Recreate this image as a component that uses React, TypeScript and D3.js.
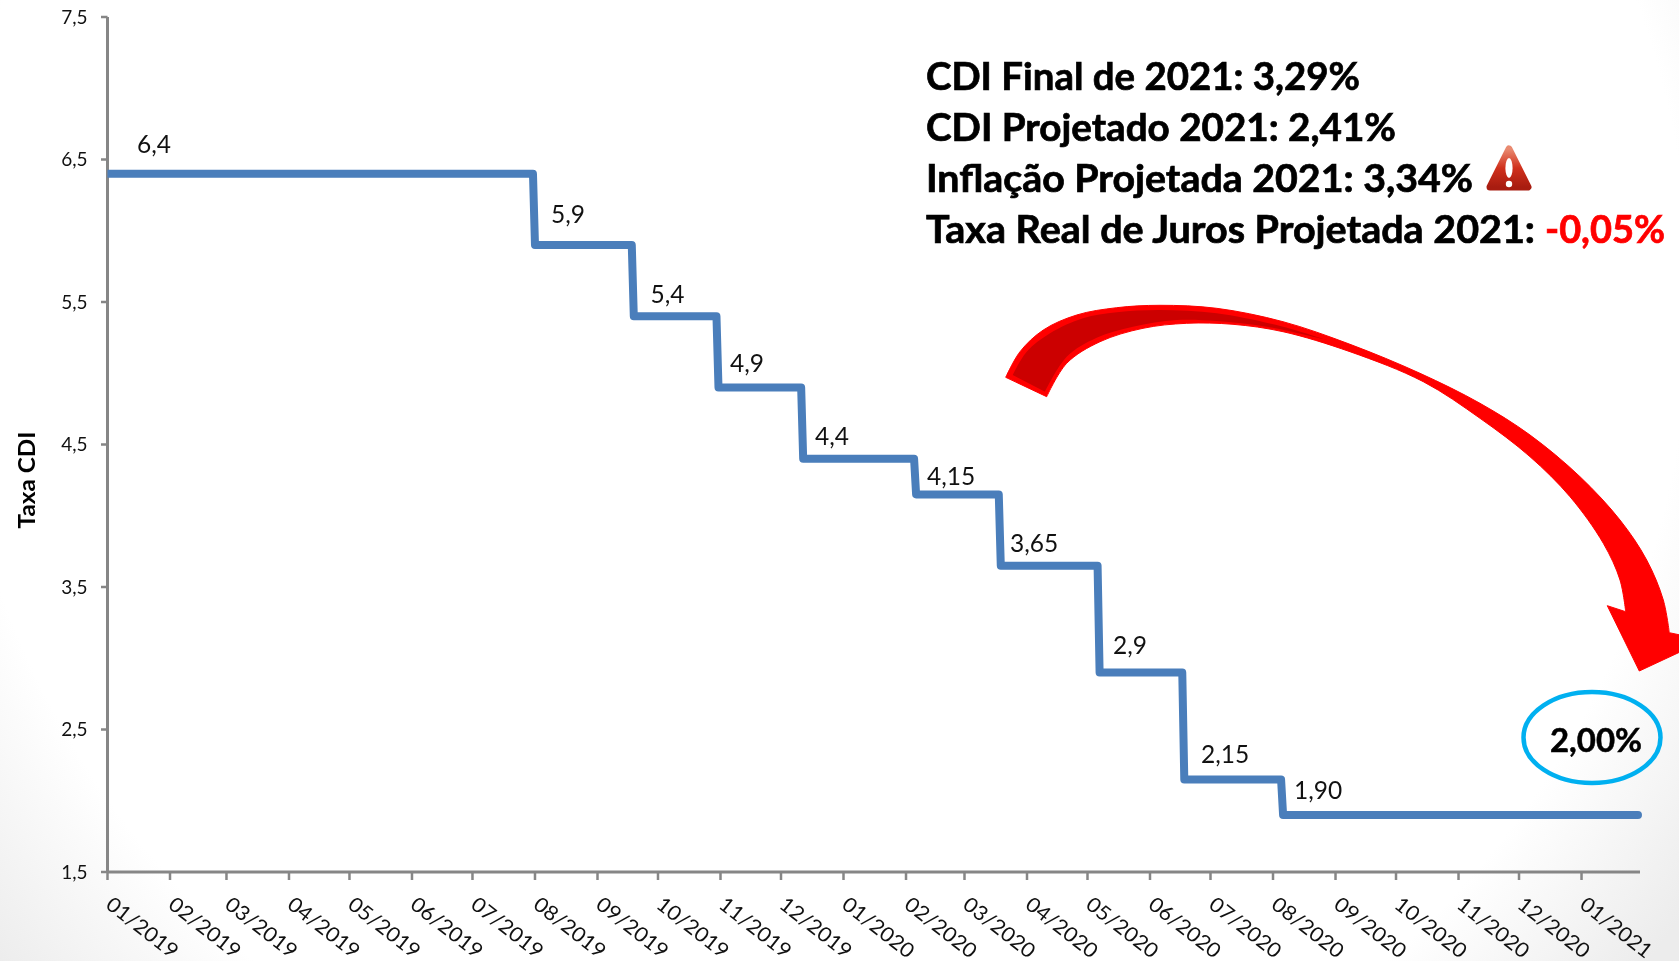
import React from "react";
import * as d3 from "d3";

const stepStarts = ["2019-01-01","2019-08-01","2019-09-19","2019-10-31","2019-12-12","2020-02-06","2020-03-19","2020-05-07","2020-06-18","2020-08-06"];
const stepValues = [6.4,5.9,5.4,4.9,4.4,4.15,3.65,2.9,2.15,1.9];
const stepLabels = ["6,4","5,9","5,4","4,9","4,4","4,15","3,65","2,9","2,15","1,90"];
const seriesEnd = "2021-01-29";
const axisEnd = "2021-01-30";
const tickLabels = ["01/2019","02/2019","03/2019","04/2019","05/2019","06/2019","07/2019","08/2019","09/2019","10/2019","11/2019","12/2019","01/2020","02/2020","03/2020","04/2020","05/2020","06/2020","07/2020","08/2020","09/2020","10/2020","11/2020","12/2020","01/2021"];
const yTicks = [1.5,2.5,3.5,4.5,5.5,6.5,7.5];

// label anchor points (left edge, baseline)
const labelX = [137,551,650.5,730,815,927,1010,1113,1201,1294];
const labelY = [152.7,222.7,303.3,372,445,484.5,552,654,763,799];

const arrowOuter: [number,number][] = [[1005.7,377.3],[1020,351.7],[1043.3,330],[1076.7,315],[1116.7,307.7],[1160,305.3],[1216.7,308.3],[1283,321.7],[1350,344.3],[1420,373.3],[1480,403.3],[1530,435],[1580,476.7],[1620,520],[1646.7,560],[1663.3,600],[1669.3,632.7]];
const arrowInner: [number,number][] = [[1625.7,611.7],[1620,580],[1603.3,543.3],[1570,496.7],[1530,456.7],[1480,418.3],[1423.3,381.7],[1350,351.7],[1283,331.7],[1233,324.3],[1186.7,323.3],[1143,328.3],[1100,341.7],[1066.7,363.3],[1046.7,396.7]];
const darkTop: [number,number][] = [[1012.7,375],[1026.7,351.7],[1050,333.3],[1083,318.3],[1116.7,312.3],[1160,310],[1216.7,313.3],[1283,326.7],[1326.7,340]];
const darkBottom: [number,number][] = [[1326.7,340],[1266.7,326.7],[1216.7,321],[1176.7,320],[1133,326.7],[1096.7,337.7],[1066.7,356.7],[1045,391.7]];

const parseDay = d3.timeParse("%Y-%m-%d");
const parseMonth = d3.timeParse("%m/%Y");

const x = d3.scaleTime().domain([parseDay("2019-01-01")!, parseDay(axisEnd)!]).range([107.5, 1640]);
const y = d3.scaleLinear().domain([1.5, 7.5]).range([872, 17]);

const points: [Date, number][] = [];
stepStarts.forEach((s, i) => {
  const start = parseDay(s)!;
  const next = i + 1 < stepStarts.length ? d3.timeDay.offset(parseDay(stepStarts[i + 1])!, -1) : parseDay(seriesEnd)!;
  points.push([start, stepValues[i]], [next, stepValues[i]]);
});
const stepLine = d3.line<[Date, number]>().x(d => x(d[0])).y(d => y(d[1]));

const smooth = d3.line().curve(d3.curveCatmullRom.alpha(0.5));
const trim = (p: string) => p.replace(/^M/, "");
const arrowPath =
  smooth(arrowOuter)! + "L1685,636L1695,645L1639.3,671L1607.3,605.7" + "L" + trim(smooth(arrowInner)!) + "Z";
const darkPath = smooth(darkTop)! + "L" + trim(smooth(darkBottom)!) + "Z";

const FONT = "Lato, 'Open Sans', sans-serif";
const AXIS = "#868686";

export default function App() {
  return (
    <svg width={1679} height={961} style={{ position: "fixed", left: 0, top: 0, display: "block" }} fontFamily={FONT}>
      <defs>
        <radialGradient id="bg" gradientUnits="userSpaceOnUse" cx={820} cy={300} r={1060}>
          <stop offset="0.82" stopColor="#ffffff" />
          <stop offset="1" stopColor="#ececec" />
        </radialGradient>
        <linearGradient id="warn" x1="0" y1="0" x2="0" y2="1">
          <stop offset="0" stopColor="#e98a70" />
          <stop offset="0.5" stopColor="#d0301c" />
          <stop offset="1" stopColor="#a81c10" />
        </linearGradient>
        <clipPath id="plot">
          <rect x={107.5} y={0} width={1571.5} height={961} />
        </clipPath>
      </defs>
      <rect width={1679} height={961} fill="url(#bg)" />

      {/* axes */}
      <line x1={107.5} x2={107.5} y1={y(7.5)} y2={y(1.5)} stroke={AXIS} strokeWidth={3} />
      <line x1={107.5} x2={x.range()[1]} y1={y(1.5)} y2={y(1.5)} stroke={AXIS} strokeWidth={3} />
      {yTicks.map(t => (
        <g key={t}>
          <line x1={101} x2={107.5} y1={y(t)} y2={y(t)} stroke={AXIS} strokeWidth={2.5} />
          <text x={87.5} y={y(t) + 6.5} textAnchor="end" fontSize={19} fill="#111">
            {String(t).replace(".", ",")}
          </text>
        </g>
      ))}
      {tickLabels.map(l => {
        const px = x(parseMonth(l)!);
        return (
          <g key={l}>
            <line x1={px} x2={px} y1={y(1.5)} y2={y(1.5) + 8} stroke={AXIS} strokeWidth={2.5} />
            <text
              transform={`translate(${px - 3},907) rotate(38)`}
              fontSize={20.5}
              textLength={85}
              lengthAdjust="spacingAndGlyphs"
              fill="#111"
            >
              {l}
            </text>
          </g>
        );
      })}
      <text
        transform="translate(35,480) rotate(-90)"
        textAnchor="middle"
        fontSize={23}
        fontWeight={700}
        textLength={97}
        lengthAdjust="spacingAndGlyphs"
        fill="#000"
      >
        Taxa CDI
      </text>

      {/* series */}
      <path d={stepLine(points)!} clipPath="url(#plot)" fill="none" stroke="#4a7ebb" strokeWidth={8} strokeLinejoin="round" strokeLinecap="round" />
      {stepLabels.map((l, i) => (
        <text key={l} x={labelX[i]} y={labelY[i]} fontSize={24.5} fill="#111">
          {l}
        </text>
      ))}

      {/* annotation text */}
      <g fontSize={38} fontWeight={700} fill="#000" stroke="#000" strokeWidth={0.7}>
        <text x={926} y={90} textLength={434} lengthAdjust="spacingAndGlyphs">CDI Final de 2021: 3,29%</text>
        <text x={926} y={141} textLength={470} lengthAdjust="spacingAndGlyphs">CDI Projetado 2021: 2,41%</text>
        <text x={926} y={192} textLength={547} lengthAdjust="spacingAndGlyphs">Inflação Projetada 2021: 3,34%</text>
        <text x={926} y={243} textLength={609} lengthAdjust="spacingAndGlyphs">Taxa Real de Juros Projetada 2021:</text>
        <text x={1545} y={243} textLength={120} lengthAdjust="spacingAndGlyphs" fill="#ff0000" stroke="#ff0000">-0,05%</text>
      </g>

      {/* warning icon */}
      <path d="M1509,149L1528,187L1490,187Z" fill="url(#warn)" stroke="url(#warn)" strokeWidth={7} strokeLinejoin="round" />
      <ellipse cx={1509} cy={168} rx={3.6} ry={10} fill="#fff" />
      <circle cx={1509} cy={184} r={3.2} fill="#fff" />

      {/* arrow */}
      <path d={arrowPath} fill="#ff0000" stroke="#ff0000" strokeWidth={1} strokeLinejoin="round" />
      <path d={darkPath} fill="#cc0000" />

      {/* highlighted value */}
      <ellipse cx={1592} cy={737.5} rx={68.5} ry={45.5} fill="none" stroke="#00b0f0" strokeWidth={4.5} />
      <text x={1550} y={752} fontSize={33} fontWeight={700} textLength={92} lengthAdjust="spacingAndGlyphs" fill="#000" stroke="#000" strokeWidth={0.5}>
        2,00%
      </text>
    </svg>
  );
}
